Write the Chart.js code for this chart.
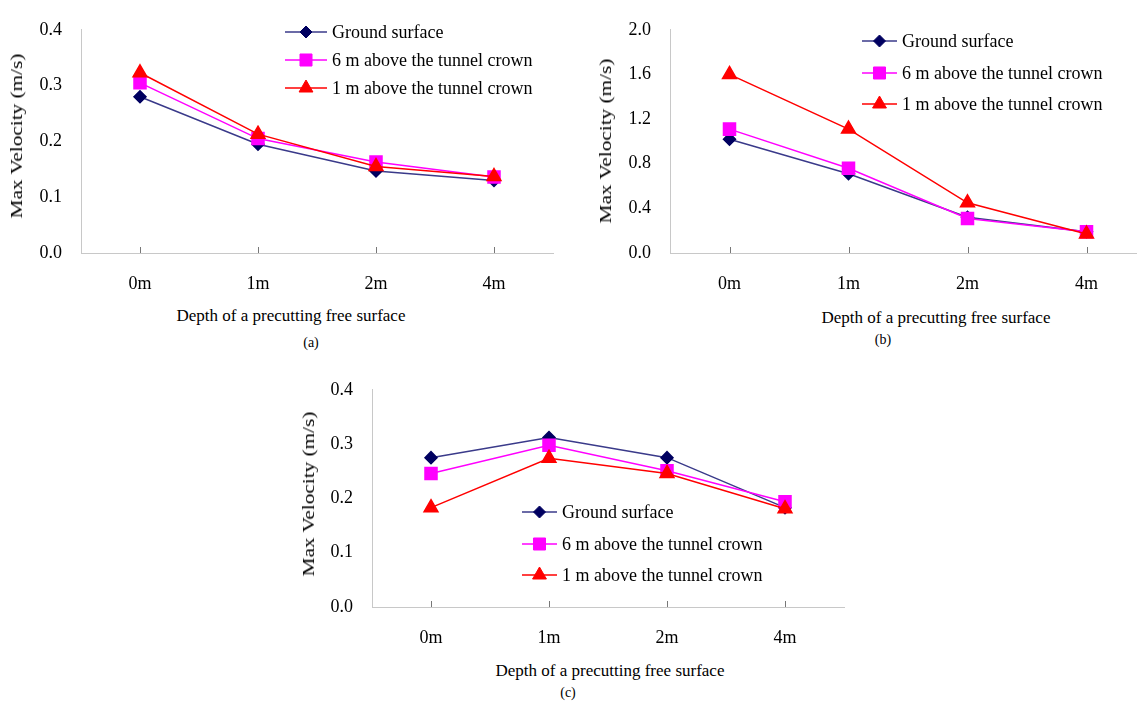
<!DOCTYPE html>
<html>
<head>
<meta charset="utf-8">
<script src="https://cdn.jsdelivr.net/npm/chart.js@4.4.1/dist/chart.umd.min.js"></script>
<style>
  html, body { margin: 0; padding: 0; background: #fff; }
  body { width: 1137px; height: 707px; position: relative; overflow: hidden; font-family: "Liberation Serif", "Times New Roman", serif; }
  canvas { position: absolute; }
  .lbl { position: absolute; transform: translate(-50%, -50%); white-space: nowrap; color: #000; }
  .xt { font-size: 17px; }
  .yt { font-size: 17px; transform: translate(-50%, -50%) rotate(-90deg) scaleX(1.25); }
  .cap { font-size: 14px; }
</style>
</head>
<body>
<canvas id="ca"></canvas>
<canvas id="cb"></canvas>
<canvas id="cc"></canvas>

<div class="lbl yt" style="left:17px;top:136px">Max Velocity (m/s)</div>
<div class="lbl xt" style="left:291px;top:316px">Depth of a precutting free surface</div>
<div class="lbl cap" style="left:311px;top:343px">(a)</div>
<div class="lbl yt" style="left:606px;top:141px">Max Velocity (m/s)</div>
<div class="lbl xt" style="left:936px;top:318px">Depth of a precutting free surface</div>
<div class="lbl cap" style="left:883px;top:340px">(b)</div>
<div class="lbl yt" style="left:309px;top:494px">Max Velocity (m/s)</div>
<div class="lbl xt" style="left:610px;top:671px">Depth of a precutting free surface</div>
<div class="lbl cap" style="left:568px;top:693px">(c)</div>

<script>
// data
const depths = ['0m', '1m', '2m', '4m'];
const seriesNames = ['Ground surface', '6 m above the tunnel crown', '1 m above the tunnel crown'];

const groundA = [0.280, 0.195, 0.147, 0.130];
const sixA    = [0.305, 0.205, 0.163, 0.136];
const oneA    = [0.323, 0.213, 0.155, 0.137];

const groundB = [1.02, 0.71, 0.32, 0.19];
const sixB    = [1.11, 0.76, 0.31, 0.19];
const oneB    = [1.60, 1.11, 0.45, 0.17];

const groundC = [0.275, 0.312, 0.275, 0.183];
const sixC    = [0.246, 0.298, 0.251, 0.194];
const oneC    = [0.183, 0.274, 0.246, 0.181];

const yTicksA = [0.0, 0.1, 0.2, 0.3, 0.4];
const yTicksB = [0.0, 0.4, 0.8, 1.2, 1.6, 2.0];
const yTicksC = [0.0, 0.1, 0.2, 0.3, 0.4];

const serif = "'Liberation Serif', 'Times New Roman', serif";
const styles = [
  {line: '#3a3a8a', point: '#000060', shape: 'rectRot', r: 6, order: 2},
  {line: '#ff00ff', point: '#ff00ff', shape: 'rect', r: 8.5, order: 1},
  {line: '#ff0000', point: '#ff0000', shape: 'triangle', r: 8, order: 0}
];

// small inner tick marks on the category axis
const innerTicks = {
  id: 'innerTicks',
  afterDatasetsDraw(chart) {
    const x = chart.scales.x, ctx = chart.ctx;
    const b = chart.chartArea.bottom;
    ctx.save();
    ctx.strokeStyle = '#777';
    ctx.lineWidth = 1;
    x.ticks.forEach((t, i) => {
      const px = Math.round(x.getPixelForTick(i)) + 0.5;
      ctx.beginPath();
      ctx.moveTo(px, b);
      ctx.lineTo(px, b - 6);
      ctx.stroke();
    });
    ctx.restore();
  }
};

// legend drawn inside the plot: line + marker + text
const boxLegend = {
  id: 'boxLegend',
  afterDraw(chart, args, opts) {
    const ctx = chart.ctx;
    ctx.save();
    ctx.font = '18px ' + serif;
    ctx.textBaseline = 'middle';
    chart.data.datasets.forEach((ds, i) => {
      const y = opts.rows[i];
      const st = styles[i];
      ctx.strokeStyle = st.line;
      ctx.lineWidth = 1.5;
      ctx.beginPath();
      ctx.moveTo(opts.x0, y);
      ctx.lineTo(opts.x1, y);
      ctx.stroke();
      ctx.fillStyle = st.point;
      ctx.strokeStyle = st.point;
      ctx.lineWidth = 1;
      Chart.helpers.drawPoint(ctx, {pointStyle: st.shape, radius: st.r, borderWidth: 1, rotation: 0}, (opts.x0 + opts.x1) / 2, y);
      ctx.fillStyle = '#000';
      ctx.fillText(ds.label, opts.tx, y + 1);
    });
    ctx.restore();
  }
};

function makeChart(id, box, vals, yTicks, legend) {
  const cv = document.getElementById(id);
  const w = box.plotRight - box.left + 10;
  const h = box.plotBottom - box.top + 45;
  cv.style.left = box.left + 'px';
  cv.style.top = box.top + 'px';
  cv.style.width = w + 'px';
  cv.style.height = h + 'px';
  cv.width = w;
  cv.height = h;
  const step = yTicks[1] - yTicks[0];
  const lg = {
    x0: legend.x0 - box.left, x1: legend.x1 - box.left, tx: legend.tx - box.left,
    rows: legend.rows.map(r => r - box.top)
  };
  return new Chart(cv, {
    type: 'line',
    data: {
      labels: depths,
      datasets: vals.map((v, i) => ({
        label: seriesNames[i],
        data: v,
        borderColor: styles[i].line,
        backgroundColor: styles[i].point,
        pointBackgroundColor: styles[i].point,
        pointBorderColor: styles[i].point,
        pointStyle: styles[i].shape,
        pointRadius: styles[i].r,
        borderWidth: 1.5,
        tension: 0,
        order: styles[i].order
      }))
    },
    options: {
      responsive: false,
      animation: false,
      layout: { padding: { left: 0, top: box.plotTop - box.top, right: 10, bottom: 0 } },
      plugins: {
        legend: { display: false },
        tooltip: { enabled: false },
        boxLegend: lg
      },
      scales: {
        x: {
          offset: true,
          grid: { display: false, drawTicks: false },
          border: { color: '#c8c8c8', width: 1 },
          ticks: { color: '#000', font: { family: serif, size: 18 }, padding: 20, maxRotation: 0 },
          afterFit(s) { s.height = 45; }
        },
        y: {
          min: yTicks[0],
          max: yTicks[yTicks.length - 1],
          grid: { display: false, drawTicks: false },
          border: { color: '#c8c8c8', width: 1 },
          ticks: {
            stepSize: step,
            color: '#000',
            font: { family: serif, size: 18 },
            padding: 19,
            callback: v => v.toFixed(1)
          },
          afterFit(s) { s.width = box.plotLeft - box.left; }
        }
      }
    },
    plugins: [innerTicks, boxLegend]
  });
}

makeChart('ca',
  {left: 0, top: 0, plotLeft: 81, plotRight: 553, plotTop: 16, plotBottom: 253},
  [groundA, sixA, oneA], yTicksA,
  {x0: 285, x1: 327, tx: 332, rows: [32, 60, 88]});

makeChart('cb',
  {left: 589, top: 0, plotLeft: 670, plotRight: 1146, plotTop: 24, plotBottom: 253},
  [groundB, sixB, oneB], yTicksB,
  {x0: 862, x1: 897, tx: 902, rows: [41, 73, 104]});

makeChart('cc',
  {left: 291, top: 360, plotLeft: 372, plotRight: 844, plotTop: 378, plotBottom: 607},
  [groundC, sixC, oneC], yTicksC,
  {x0: 522, x1: 557, tx: 562, rows: [512, 544, 575]});
</script>
</body>
</html>
